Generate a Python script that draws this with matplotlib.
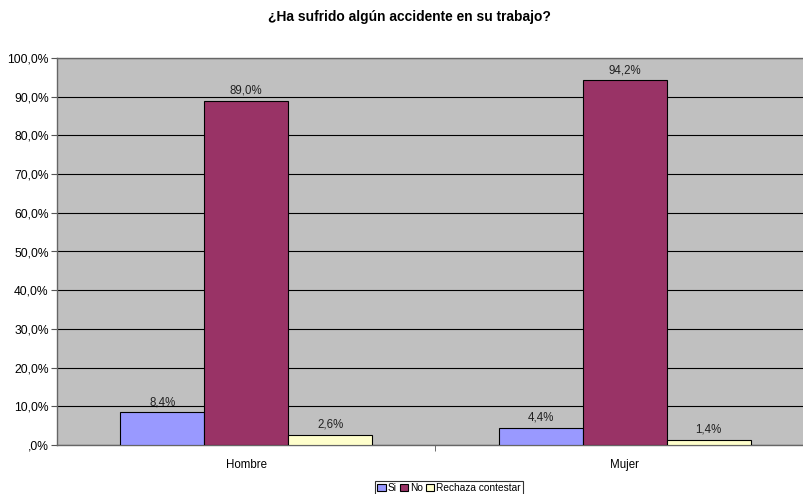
import numpy as np
import matplotlib.pyplot as plt

plt.rcParams['font.family'] = ['Liberation Sans', 'DejaVu Sans']

categories = ['Hombre', 'Mujer']
series = ['Si', 'No', 'Rechaza contestar']
si = [8.4, 4.4]
no = [89.0, 94.2]
rechaza = [2.6, 1.4]
colors = ['#9999FF', '#993366', '#FFFFCC']
yticks = [0, 10, 20, 30, 40, 50, 60, 70, 80, 90, 100]


def fmt(v):
    s = '%.1f' % v
    if s.startswith('0'):
        s = s[1:]
    return s.replace('.', ',') + '%'


fig = plt.figure(figsize=(8.04, 4.94), dpi=100)
ax = fig.add_axes([57 / 804, 49 / 494, 757 / 804, 387 / 494])
ax.set_facecolor('#C0C0C0')

x = np.arange(len(categories))
w = 0.222
for i, (name, vals) in enumerate(zip(series, [si, no, rechaza])):
    pos = x + (i - 1) * w
    ax.bar(pos, vals, width=w, color=colors[i], edgecolor='black', linewidth=0.8,
           label=name, zorder=3)
    for p, v in zip(pos, vals):
        ax.text(p, v + 1.1, fmt(v), ha='center', va='bottom', fontsize=8.3, color='#222222')

ax.set_xlim(-0.5, 1.5)
ax.set_ylim(0, 100)
ax.set_yticks(yticks)
ax.set_yticklabels([fmt(t) for t in yticks], fontsize=8.7)
ax.yaxis.grid(True, color='black', linewidth=0.8, zorder=1)
ax.set_axisbelow(True)
ax.set_xticks(x)
ax.set_xticklabels(categories, fontsize=8.3)
ax.set_xticks([0.5], minor=True)
ax.tick_params(axis='x', which='major', length=0, pad=10)
ax.tick_params(axis='x', which='minor', length=4, color='#555555')
ax.tick_params(axis='y', length=4, color='#555555', pad=2)
ax.spines['right'].set_visible(False)
for s in ['left', 'bottom', 'top']:
    ax.spines[s].set_color('#666666')
    ax.spines[s].set_linewidth(1.0)

fig.text(409 / 804, 1 - 17 / 494, '¿Ha sufrido algún accidente en su trabajo?',
         ha='center', va='center', fontsize=9.9, fontweight='bold')

leg = fig.legend(loc='upper center', bbox_to_anchor=(449 / 804, 1 - 481 / 494), ncol=3,
                 fontsize=7.3, frameon=True, fancybox=False, edgecolor='black',
                 handlelength=0.8, handleheight=0.8, handletextpad=0.2, columnspacing=0.3,
                 borderpad=0.2, borderaxespad=0)
leg.get_frame().set_linewidth(0.8)

fig.savefig('out.png', dpi=100)
